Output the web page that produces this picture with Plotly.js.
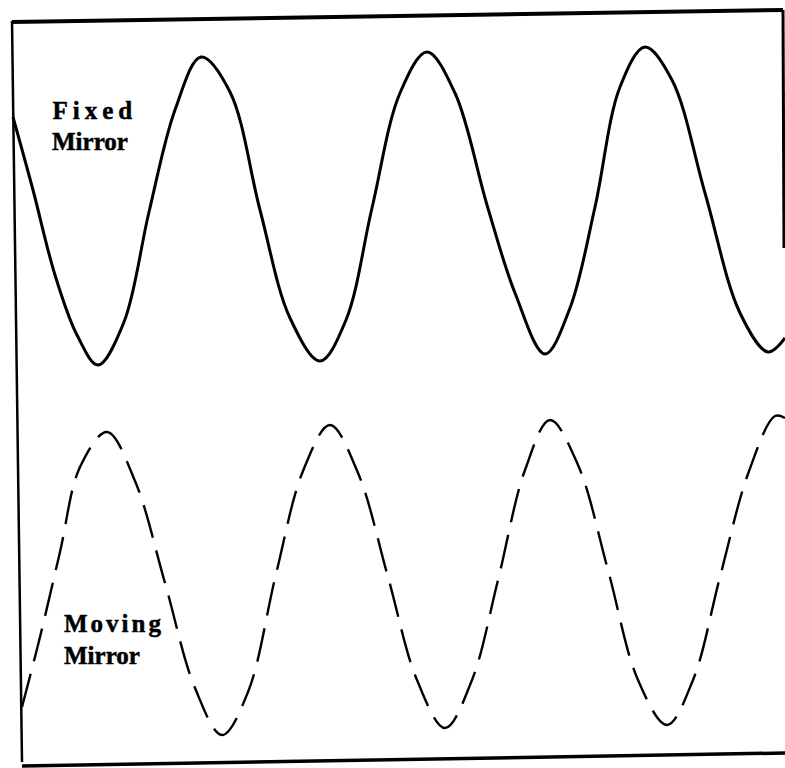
<!DOCTYPE html>
<html>
<head>
<meta charset="utf-8">
<script src="https://cdn.plot.ly/plotly-3.0.1.min.js"></script>
<style>
  html, body { margin: 0; padding: 0; background: #fff; }
  #chart { width: 785px; height: 768px; }
  g.annotation text { stroke: #000; stroke-width: 0.5px; }
  g.annotation[data-index="0"] text { letter-spacing: 5px; }
  g.annotation[data-index="2"] text { letter-spacing: 3px; }
</style>
</head>
<body>
<div id="chart"></div>
<script>
// Fixed mirror signal (solid): extremes and intermediate points
const fixedX = [13, 33, 55, 77, 98, 124, 149, 175, 201, 230, 260, 290, 320, 346, 372, 400, 427, 455, 487, 515, 545, 570, 595, 620, 645, 672, 705, 740, 768, 785];
const fixedY = [117, 190, 275, 335, 365, 322, 212, 110, 57, 92, 210, 318, 361, 320, 208, 93, 52, 93, 205, 293, 354, 308, 207, 87, 47, 80, 193, 313, 352, 338];

// Moving mirror signal (dashed)
const movingX = [22, 40, 60, 80, 107, 135, 165, 195, 222, 248, 276, 303, 330, 358, 388, 417, 445, 472, 498, 525, 550, 578, 608, 638, 667, 693, 720, 748, 775, 785];
const movingY = [707, 637, 552, 467, 432, 481, 583, 688, 735, 692, 574, 471, 425, 473, 577, 680, 728, 680, 580, 470, 420, 465, 570, 680, 725, 680, 577, 474, 416, 418];

// Labels
const labels = ["Fixed", "Mirror", "Moving", "Mirror"];

const traces = [
  {
    x: fixedX, y: fixedY, type: "scatter", mode: "lines", name: "Fixed Mirror",
    line: { color: "#000", width: 3, shape: "spline", smoothing: 1 },
    hoverinfo: "skip"
  },
  {
    x: movingX, y: movingY, type: "scatter", mode: "lines", name: "Moving Mirror",
    line: { color: "#000", width: 2.4, dash: "34px,13px", shape: "spline", smoothing: 1 },
    hoverinfo: "skip"
  }
];

const labelFont = { family: "Liberation Serif, Times New Roman, serif", size: 25, color: "#000", weight: "bold" };

const layout = {
  width: 785, height: 768,
  margin: { l: 0, r: 0, t: 0, b: 0, pad: 0 },
  paper_bgcolor: "#fff", plot_bgcolor: "#fff",
  showlegend: false,
  xaxis: { range: [0, 785], visible: false, fixedrange: true },
  yaxis: { range: [768, 0], visible: false, fixedrange: true },
  annotations: [
    { x: 62.5, y: 110, text: "<b>" + labels[0] + "</b>", xref: "x", yref: "y", xanchor: "left", yanchor: "middle", showarrow: false, font: labelFont },
    { x: 50, y: 141, text: "<b>" + labels[1] + "</b>", xref: "x", yref: "y", xanchor: "left", yanchor: "middle", showarrow: false, font: labelFont },
    { x: 71, y: 623, text: "<b>" + labels[2] + "</b>", xref: "x", yref: "y", xanchor: "left", yanchor: "middle", showarrow: false, font: labelFont },
    { x: 62, y: 655, text: "<b>" + labels[3] + "</b>", xref: "x", yref: "y", xanchor: "left", yanchor: "middle", showarrow: false, font: labelFont }
  ],
  shapes: [
    { type: "line", xref: "x", yref: "y", x0: 12, y0: 22, x1: 783, y1: 10, line: { color: "#000", width: 4 } },
    { type: "line", xref: "x", yref: "y", x0: 12, y0: 21, x1: 22, y1: 762, line: { color: "#000", width: 2.5 } },
    { type: "line", xref: "x", yref: "y", x0: 783, y0: 10, x1: 784, y1: 248, line: { color: "#000", width: 3 } },
    { type: "line", xref: "x", yref: "y", x0: 22, y0: 766, x1: 785, y1: 753, line: { color: "#000", width: 3.5 } }
  ]
};

Plotly.newPlot("chart", traces, layout, { staticPlot: true, displayModeBar: false });
</script>
</body>
</html>
